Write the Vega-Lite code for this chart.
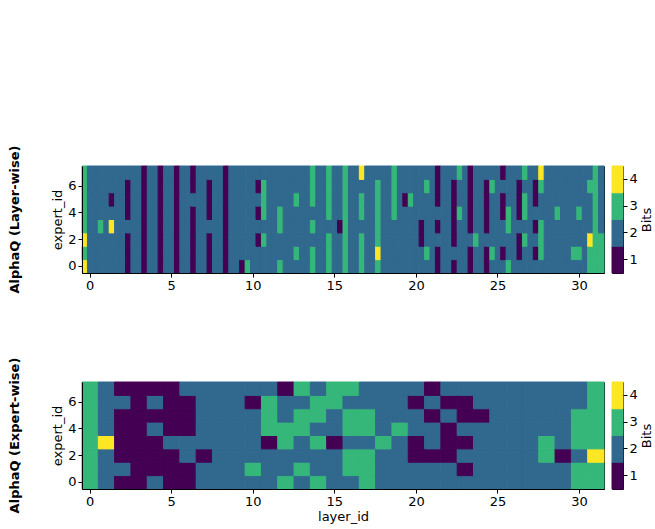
{
  "$schema": "https://vega.github.io/schema/vega-lite/v6.json",
  "background": "white",
  "padding": {"left": 8, "top": 144, "right": 0, "bottom": 0},
  "config": {
    "view": {"stroke": "black", "strokeWidth": 1},
    "font": "DejaVu Sans",
    "axis": {
      "labelFont": "DejaVu Sans", "titleFont": "DejaVu Sans",
      "labelFontSize": 13, "titleFontSize": 13, "titleFontWeight": "normal",
      "labelColor": "black", "titleColor": "black",
      "tickColor": "black", "domainColor": "black", "domainWidth": 1,
      "tickSize": 4, "labelPadding": 2, "grid": false, "labelAngle": 0
    }
  },
  "datasets": {
    "layerwise": [
      {"k":0,"e":0,"b":4},{"k":0,"e":1,"b":3},{"k":0,"e":2,"b":4},{"k":0,"e":3,"b":3},{"k":0,"e":4,"b":3},{"k":0,"e":5,"b":3},{"k":0,"e":6,"b":3},{"k":0,"e":7,"b":3},
      {"k":1,"e":0,"b":2},{"k":1,"e":1,"b":2},{"k":1,"e":2,"b":2},{"k":1,"e":3,"b":2},{"k":1,"e":4,"b":2},{"k":1,"e":5,"b":2},{"k":1,"e":6,"b":2},{"k":1,"e":7,"b":2},
      {"k":2,"e":0,"b":2},{"k":2,"e":1,"b":2},{"k":2,"e":2,"b":2},{"k":2,"e":3,"b":2},{"k":2,"e":4,"b":2},{"k":2,"e":5,"b":2},{"k":2,"e":6,"b":2},{"k":2,"e":7,"b":2},
      {"k":3,"e":0,"b":2},{"k":3,"e":1,"b":2},{"k":3,"e":2,"b":2},{"k":3,"e":3,"b":3},{"k":3,"e":4,"b":2},{"k":3,"e":5,"b":2},{"k":3,"e":6,"b":2},{"k":3,"e":7,"b":2},
      {"k":4,"e":0,"b":2},{"k":4,"e":1,"b":2},{"k":4,"e":2,"b":2},{"k":4,"e":3,"b":2},{"k":4,"e":4,"b":2},{"k":4,"e":5,"b":2},{"k":4,"e":6,"b":2},{"k":4,"e":7,"b":2},
      {"k":5,"e":0,"b":2},{"k":5,"e":1,"b":2},{"k":5,"e":2,"b":2},{"k":5,"e":3,"b":4},{"k":5,"e":4,"b":2},{"k":5,"e":5,"b":1},{"k":5,"e":6,"b":2},{"k":5,"e":7,"b":2},
      {"k":6,"e":0,"b":2},{"k":6,"e":1,"b":2},{"k":6,"e":2,"b":2},{"k":6,"e":3,"b":2},{"k":6,"e":4,"b":2},{"k":6,"e":5,"b":2},{"k":6,"e":6,"b":2},{"k":6,"e":7,"b":2},
      {"k":7,"e":0,"b":2},{"k":7,"e":1,"b":2},{"k":7,"e":2,"b":2},{"k":7,"e":3,"b":2},{"k":7,"e":4,"b":2},{"k":7,"e":5,"b":2},{"k":7,"e":6,"b":2},{"k":7,"e":7,"b":2},
      {"k":8,"e":0,"b":1},{"k":8,"e":1,"b":1},{"k":8,"e":2,"b":1},{"k":8,"e":3,"b":2},{"k":8,"e":4,"b":1},{"k":8,"e":5,"b":1},{"k":8,"e":6,"b":1},{"k":8,"e":7,"b":2},
      {"k":9,"e":0,"b":2},{"k":9,"e":1,"b":2},{"k":9,"e":2,"b":2},{"k":9,"e":3,"b":2},{"k":9,"e":4,"b":2},{"k":9,"e":5,"b":2},{"k":9,"e":6,"b":2},{"k":9,"e":7,"b":2},
      {"k":10,"e":0,"b":2},{"k":10,"e":1,"b":2},{"k":10,"e":2,"b":2},{"k":10,"e":3,"b":2},{"k":10,"e":4,"b":2},{"k":10,"e":5,"b":2},{"k":10,"e":6,"b":2},{"k":10,"e":7,"b":2},
      {"k":11,"e":0,"b":1},{"k":11,"e":1,"b":1},{"k":11,"e":2,"b":1},{"k":11,"e":3,"b":1},{"k":11,"e":4,"b":1},{"k":11,"e":5,"b":1},{"k":11,"e":6,"b":1},{"k":11,"e":7,"b":1},
      {"k":12,"e":0,"b":2},{"k":12,"e":1,"b":2},{"k":12,"e":2,"b":2},{"k":12,"e":3,"b":2},{"k":12,"e":4,"b":2},{"k":12,"e":5,"b":2},{"k":12,"e":6,"b":2},{"k":12,"e":7,"b":2},
      {"k":13,"e":0,"b":2},{"k":13,"e":1,"b":2},{"k":13,"e":2,"b":2},{"k":13,"e":3,"b":2},{"k":13,"e":4,"b":2},{"k":13,"e":5,"b":2},{"k":13,"e":6,"b":2},{"k":13,"e":7,"b":2},
      {"k":14,"e":0,"b":1},{"k":14,"e":1,"b":1},{"k":14,"e":2,"b":1},{"k":14,"e":3,"b":1},{"k":14,"e":4,"b":1},{"k":14,"e":5,"b":1},{"k":14,"e":6,"b":1},{"k":14,"e":7,"b":1},
      {"k":15,"e":0,"b":2},{"k":15,"e":1,"b":2},{"k":15,"e":2,"b":2},{"k":15,"e":3,"b":2},{"k":15,"e":4,"b":2},{"k":15,"e":5,"b":2},{"k":15,"e":6,"b":2},{"k":15,"e":7,"b":2},
      {"k":16,"e":0,"b":2},{"k":16,"e":1,"b":2},{"k":16,"e":2,"b":2},{"k":16,"e":3,"b":2},{"k":16,"e":4,"b":2},{"k":16,"e":5,"b":2},{"k":16,"e":6,"b":2},{"k":16,"e":7,"b":2},
      {"k":17,"e":0,"b":1},{"k":17,"e":1,"b":1},{"k":17,"e":2,"b":1},{"k":17,"e":3,"b":1},{"k":17,"e":4,"b":1},{"k":17,"e":5,"b":1},{"k":17,"e":6,"b":1},{"k":17,"e":7,"b":1},
      {"k":18,"e":0,"b":2},{"k":18,"e":1,"b":2},{"k":18,"e":2,"b":2},{"k":18,"e":3,"b":2},{"k":18,"e":4,"b":2},{"k":18,"e":5,"b":2},{"k":18,"e":6,"b":2},{"k":18,"e":7,"b":2},
      {"k":19,"e":0,"b":2},{"k":19,"e":1,"b":2},{"k":19,"e":2,"b":2},{"k":19,"e":3,"b":2},{"k":19,"e":4,"b":2},{"k":19,"e":5,"b":2},{"k":19,"e":6,"b":2},{"k":19,"e":7,"b":2},
      {"k":20,"e":0,"b":1},{"k":20,"e":1,"b":1},{"k":20,"e":2,"b":1},{"k":20,"e":3,"b":1},{"k":20,"e":4,"b":1},{"k":20,"e":5,"b":2},{"k":20,"e":6,"b":1},{"k":20,"e":7,"b":1},
      {"k":21,"e":0,"b":2},{"k":21,"e":1,"b":2},{"k":21,"e":2,"b":2},{"k":21,"e":3,"b":2},{"k":21,"e":4,"b":2},{"k":21,"e":5,"b":2},{"k":21,"e":6,"b":2},{"k":21,"e":7,"b":2},
      {"k":22,"e":0,"b":2},{"k":22,"e":1,"b":2},{"k":22,"e":2,"b":2},{"k":22,"e":3,"b":2},{"k":22,"e":4,"b":2},{"k":22,"e":5,"b":2},{"k":22,"e":6,"b":2},{"k":22,"e":7,"b":2},
      {"k":23,"e":0,"b":1},{"k":23,"e":1,"b":1},{"k":23,"e":2,"b":1},{"k":23,"e":3,"b":2},{"k":23,"e":4,"b":1},{"k":23,"e":5,"b":1},{"k":23,"e":6,"b":1},{"k":23,"e":7,"b":2},
      {"k":24,"e":0,"b":2},{"k":24,"e":1,"b":2},{"k":24,"e":2,"b":2},{"k":24,"e":3,"b":2},{"k":24,"e":4,"b":2},{"k":24,"e":5,"b":2},{"k":24,"e":6,"b":2},{"k":24,"e":7,"b":2},
      {"k":25,"e":0,"b":2},{"k":25,"e":1,"b":2},{"k":25,"e":2,"b":2},{"k":25,"e":3,"b":2},{"k":25,"e":4,"b":2},{"k":25,"e":5,"b":2},{"k":25,"e":6,"b":2},{"k":25,"e":7,"b":2},
      {"k":26,"e":0,"b":1},{"k":26,"e":1,"b":1},{"k":26,"e":2,"b":1},{"k":26,"e":3,"b":1},{"k":26,"e":4,"b":1},{"k":26,"e":5,"b":1},{"k":26,"e":6,"b":1},{"k":26,"e":7,"b":1},
      {"k":27,"e":0,"b":2},{"k":27,"e":1,"b":2},{"k":27,"e":2,"b":2},{"k":27,"e":3,"b":2},{"k":27,"e":4,"b":2},{"k":27,"e":5,"b":2},{"k":27,"e":6,"b":2},{"k":27,"e":7,"b":2},
      {"k":28,"e":0,"b":2},{"k":28,"e":1,"b":2},{"k":28,"e":2,"b":2},{"k":28,"e":3,"b":2},{"k":28,"e":4,"b":2},{"k":28,"e":5,"b":2},{"k":28,"e":6,"b":2},{"k":28,"e":7,"b":2},
      {"k":29,"e":0,"b":1},{"k":29,"e":1,"b":2},{"k":29,"e":2,"b":2},{"k":29,"e":3,"b":2},{"k":29,"e":4,"b":2},{"k":29,"e":5,"b":2},{"k":29,"e":6,"b":2},{"k":29,"e":7,"b":2},
      {"k":30,"e":0,"b":3},{"k":30,"e":1,"b":2},{"k":30,"e":2,"b":2},{"k":30,"e":3,"b":2},{"k":30,"e":4,"b":2},{"k":30,"e":5,"b":2},{"k":30,"e":6,"b":2},{"k":30,"e":7,"b":2},
      {"k":31,"e":0,"b":2},{"k":31,"e":1,"b":2},{"k":31,"e":2,"b":2},{"k":31,"e":3,"b":2},{"k":31,"e":4,"b":2},{"k":31,"e":5,"b":2},{"k":31,"e":6,"b":2},{"k":31,"e":7,"b":2},
      {"k":32,"e":0,"b":2},{"k":32,"e":1,"b":2},{"k":32,"e":2,"b":1},{"k":32,"e":3,"b":2},{"k":32,"e":4,"b":1},{"k":32,"e":5,"b":2},{"k":32,"e":6,"b":1},{"k":32,"e":7,"b":2},
      {"k":33,"e":0,"b":2},{"k":33,"e":1,"b":2},{"k":33,"e":2,"b":3},{"k":33,"e":3,"b":2},{"k":33,"e":4,"b":3},{"k":33,"e":5,"b":3},{"k":33,"e":6,"b":3},{"k":33,"e":7,"b":2},
      {"k":34,"e":0,"b":2},{"k":34,"e":1,"b":2},{"k":34,"e":2,"b":2},{"k":34,"e":3,"b":2},{"k":34,"e":4,"b":2},{"k":34,"e":5,"b":2},{"k":34,"e":6,"b":2},{"k":34,"e":7,"b":2},
      {"k":35,"e":0,"b":2},{"k":35,"e":1,"b":2},{"k":35,"e":2,"b":2},{"k":35,"e":3,"b":2},{"k":35,"e":4,"b":2},{"k":35,"e":5,"b":2},{"k":35,"e":6,"b":2},{"k":35,"e":7,"b":2},
      {"k":36,"e":0,"b":3},{"k":36,"e":1,"b":2},{"k":36,"e":2,"b":2},{"k":36,"e":3,"b":3},{"k":36,"e":4,"b":3},{"k":36,"e":5,"b":2},{"k":36,"e":6,"b":2},{"k":36,"e":7,"b":2},
      {"k":37,"e":0,"b":2},{"k":37,"e":1,"b":2},{"k":37,"e":2,"b":2},{"k":37,"e":3,"b":2},{"k":37,"e":4,"b":2},{"k":37,"e":5,"b":2},{"k":37,"e":6,"b":2},{"k":37,"e":7,"b":2},
      {"k":38,"e":0,"b":2},{"k":38,"e":1,"b":2},{"k":38,"e":2,"b":2},{"k":38,"e":3,"b":2},{"k":38,"e":4,"b":2},{"k":38,"e":5,"b":2},{"k":38,"e":6,"b":2},{"k":38,"e":7,"b":2},
      {"k":39,"e":0,"b":2},{"k":39,"e":1,"b":3},{"k":39,"e":2,"b":2},{"k":39,"e":3,"b":2},{"k":39,"e":4,"b":2},{"k":39,"e":5,"b":3},{"k":39,"e":6,"b":2},{"k":39,"e":7,"b":2},
      {"k":40,"e":0,"b":2},{"k":40,"e":1,"b":2},{"k":40,"e":2,"b":2},{"k":40,"e":3,"b":2},{"k":40,"e":4,"b":2},{"k":40,"e":5,"b":2},{"k":40,"e":6,"b":2},{"k":40,"e":7,"b":2},
      {"k":41,"e":0,"b":2},{"k":41,"e":1,"b":2},{"k":41,"e":2,"b":2},{"k":41,"e":3,"b":2},{"k":41,"e":4,"b":2},{"k":41,"e":5,"b":2},{"k":41,"e":6,"b":2},{"k":41,"e":7,"b":2},
      {"k":42,"e":0,"b":3},{"k":42,"e":1,"b":3},{"k":42,"e":2,"b":2},{"k":42,"e":3,"b":3},{"k":42,"e":4,"b":2},{"k":42,"e":5,"b":3},{"k":42,"e":6,"b":3},{"k":42,"e":7,"b":3},
      {"k":43,"e":0,"b":2},{"k":43,"e":1,"b":2},{"k":43,"e":2,"b":2},{"k":43,"e":3,"b":2},{"k":43,"e":4,"b":2},{"k":43,"e":5,"b":2},{"k":43,"e":6,"b":2},{"k":43,"e":7,"b":2},
      {"k":44,"e":0,"b":2},{"k":44,"e":1,"b":2},{"k":44,"e":2,"b":2},{"k":44,"e":3,"b":2},{"k":44,"e":4,"b":2},{"k":44,"e":5,"b":2},{"k":44,"e":6,"b":2},{"k":44,"e":7,"b":2},
      {"k":45,"e":0,"b":3},{"k":45,"e":1,"b":3},{"k":45,"e":2,"b":3},{"k":45,"e":3,"b":2},{"k":45,"e":4,"b":3},{"k":45,"e":5,"b":3},{"k":45,"e":6,"b":3},{"k":45,"e":7,"b":3},
      {"k":46,"e":0,"b":2},{"k":46,"e":1,"b":2},{"k":46,"e":2,"b":2},{"k":46,"e":3,"b":2},{"k":46,"e":4,"b":2},{"k":46,"e":5,"b":2},{"k":46,"e":6,"b":2},{"k":46,"e":7,"b":2},
      {"k":47,"e":0,"b":2},{"k":47,"e":1,"b":2},{"k":47,"e":2,"b":2},{"k":47,"e":3,"b":1},{"k":47,"e":4,"b":2},{"k":47,"e":5,"b":2},{"k":47,"e":6,"b":2},{"k":47,"e":7,"b":2},
      {"k":48,"e":0,"b":3},{"k":48,"e":1,"b":3},{"k":48,"e":2,"b":3},{"k":48,"e":3,"b":3},{"k":48,"e":4,"b":3},{"k":48,"e":5,"b":3},{"k":48,"e":6,"b":3},{"k":48,"e":7,"b":3},
      {"k":49,"e":0,"b":2},{"k":49,"e":1,"b":2},{"k":49,"e":2,"b":2},{"k":49,"e":3,"b":2},{"k":49,"e":4,"b":2},{"k":49,"e":5,"b":2},{"k":49,"e":6,"b":2},{"k":49,"e":7,"b":2},
      {"k":50,"e":0,"b":2},{"k":50,"e":1,"b":2},{"k":50,"e":2,"b":2},{"k":50,"e":3,"b":2},{"k":50,"e":4,"b":2},{"k":50,"e":5,"b":2},{"k":50,"e":6,"b":2},{"k":50,"e":7,"b":2},
      {"k":51,"e":0,"b":3},{"k":51,"e":1,"b":3},{"k":51,"e":2,"b":3},{"k":51,"e":3,"b":2},{"k":51,"e":4,"b":3},{"k":51,"e":5,"b":3},{"k":51,"e":6,"b":2},{"k":51,"e":7,"b":4},
      {"k":52,"e":0,"b":2},{"k":52,"e":1,"b":2},{"k":52,"e":2,"b":2},{"k":52,"e":3,"b":2},{"k":52,"e":4,"b":2},{"k":52,"e":5,"b":2},{"k":52,"e":6,"b":2},{"k":52,"e":7,"b":2},
      {"k":53,"e":0,"b":2},{"k":53,"e":1,"b":2},{"k":53,"e":2,"b":2},{"k":53,"e":3,"b":2},{"k":53,"e":4,"b":2},{"k":53,"e":5,"b":2},{"k":53,"e":6,"b":2},{"k":53,"e":7,"b":2},
      {"k":54,"e":0,"b":3},{"k":54,"e":1,"b":4},{"k":54,"e":2,"b":3},{"k":54,"e":3,"b":3},{"k":54,"e":4,"b":3},{"k":54,"e":5,"b":3},{"k":54,"e":6,"b":3},{"k":54,"e":7,"b":2},
      {"k":55,"e":0,"b":2},{"k":55,"e":1,"b":2},{"k":55,"e":2,"b":2},{"k":55,"e":3,"b":2},{"k":55,"e":4,"b":2},{"k":55,"e":5,"b":2},{"k":55,"e":6,"b":2},{"k":55,"e":7,"b":2},
      {"k":56,"e":0,"b":2},{"k":56,"e":1,"b":2},{"k":56,"e":2,"b":2},{"k":56,"e":3,"b":2},{"k":56,"e":4,"b":2},{"k":56,"e":5,"b":2},{"k":56,"e":6,"b":2},{"k":56,"e":7,"b":2},
      {"k":57,"e":0,"b":2},{"k":57,"e":1,"b":2},{"k":57,"e":2,"b":2},{"k":57,"e":3,"b":2},{"k":57,"e":4,"b":3},{"k":57,"e":5,"b":3},{"k":57,"e":6,"b":3},{"k":57,"e":7,"b":3},
      {"k":58,"e":0,"b":2},{"k":58,"e":1,"b":2},{"k":58,"e":2,"b":2},{"k":58,"e":3,"b":2},{"k":58,"e":4,"b":2},{"k":58,"e":5,"b":2},{"k":58,"e":6,"b":2},{"k":58,"e":7,"b":2},
      {"k":59,"e":0,"b":2},{"k":59,"e":1,"b":2},{"k":59,"e":2,"b":2},{"k":59,"e":3,"b":2},{"k":59,"e":4,"b":2},{"k":59,"e":5,"b":1},{"k":59,"e":6,"b":2},{"k":59,"e":7,"b":2},
      {"k":60,"e":0,"b":2},{"k":60,"e":1,"b":2},{"k":60,"e":2,"b":2},{"k":60,"e":3,"b":2},{"k":60,"e":4,"b":2},{"k":60,"e":5,"b":3},{"k":60,"e":6,"b":2},{"k":60,"e":7,"b":2},
      {"k":61,"e":0,"b":2},{"k":61,"e":1,"b":2},{"k":61,"e":2,"b":2},{"k":61,"e":3,"b":2},{"k":61,"e":4,"b":2},{"k":61,"e":5,"b":2},{"k":61,"e":6,"b":2},{"k":61,"e":7,"b":2},
      {"k":62,"e":0,"b":2},{"k":62,"e":1,"b":2},{"k":62,"e":2,"b":1},{"k":62,"e":3,"b":1},{"k":62,"e":4,"b":2},{"k":62,"e":5,"b":2},{"k":62,"e":6,"b":2},{"k":62,"e":7,"b":2},
      {"k":63,"e":0,"b":2},{"k":63,"e":1,"b":3},{"k":63,"e":2,"b":2},{"k":63,"e":3,"b":2},{"k":63,"e":4,"b":2},{"k":63,"e":5,"b":2},{"k":63,"e":6,"b":3},{"k":63,"e":7,"b":2},
      {"k":64,"e":0,"b":2},{"k":64,"e":1,"b":2},{"k":64,"e":2,"b":2},{"k":64,"e":3,"b":2},{"k":64,"e":4,"b":2},{"k":64,"e":5,"b":2},{"k":64,"e":6,"b":2},{"k":64,"e":7,"b":2},
      {"k":65,"e":0,"b":1},{"k":65,"e":1,"b":1},{"k":65,"e":2,"b":2},{"k":65,"e":3,"b":1},{"k":65,"e":4,"b":2},{"k":65,"e":5,"b":1},{"k":65,"e":6,"b":1},{"k":65,"e":7,"b":1},
      {"k":66,"e":0,"b":2},{"k":66,"e":1,"b":2},{"k":66,"e":2,"b":2},{"k":66,"e":3,"b":2},{"k":66,"e":4,"b":2},{"k":66,"e":5,"b":2},{"k":66,"e":6,"b":2},{"k":66,"e":7,"b":2},
      {"k":67,"e":0,"b":2},{"k":67,"e":1,"b":2},{"k":67,"e":2,"b":2},{"k":67,"e":3,"b":2},{"k":67,"e":4,"b":2},{"k":67,"e":5,"b":2},{"k":67,"e":6,"b":2},{"k":67,"e":7,"b":2},
      {"k":68,"e":0,"b":1},{"k":68,"e":1,"b":2},{"k":68,"e":2,"b":1},{"k":68,"e":3,"b":1},{"k":68,"e":4,"b":1},{"k":68,"e":5,"b":1},{"k":68,"e":6,"b":1},{"k":68,"e":7,"b":2},
      {"k":69,"e":0,"b":2},{"k":69,"e":1,"b":2},{"k":69,"e":2,"b":2},{"k":69,"e":3,"b":2},{"k":69,"e":4,"b":3},{"k":69,"e":5,"b":2},{"k":69,"e":6,"b":2},{"k":69,"e":7,"b":3},
      {"k":70,"e":0,"b":2},{"k":70,"e":1,"b":2},{"k":70,"e":2,"b":2},{"k":70,"e":3,"b":2},{"k":70,"e":4,"b":2},{"k":70,"e":5,"b":2},{"k":70,"e":6,"b":2},{"k":70,"e":7,"b":2},
      {"k":71,"e":0,"b":1},{"k":71,"e":1,"b":1},{"k":71,"e":2,"b":2},{"k":71,"e":3,"b":1},{"k":71,"e":4,"b":1},{"k":71,"e":5,"b":1},{"k":71,"e":6,"b":1},{"k":71,"e":7,"b":1},
      {"k":72,"e":0,"b":2},{"k":72,"e":1,"b":2},{"k":72,"e":2,"b":3},{"k":72,"e":3,"b":2},{"k":72,"e":4,"b":2},{"k":72,"e":5,"b":2},{"k":72,"e":6,"b":2},{"k":72,"e":7,"b":2},
      {"k":73,"e":0,"b":2},{"k":73,"e":1,"b":2},{"k":73,"e":2,"b":2},{"k":73,"e":3,"b":2},{"k":73,"e":4,"b":2},{"k":73,"e":5,"b":2},{"k":73,"e":6,"b":2},{"k":73,"e":7,"b":2},
      {"k":74,"e":0,"b":1},{"k":74,"e":1,"b":1},{"k":74,"e":2,"b":2},{"k":74,"e":3,"b":1},{"k":74,"e":4,"b":1},{"k":74,"e":5,"b":1},{"k":74,"e":6,"b":1},{"k":74,"e":7,"b":2},
      {"k":75,"e":0,"b":2},{"k":75,"e":1,"b":3},{"k":75,"e":2,"b":2},{"k":75,"e":3,"b":2},{"k":75,"e":4,"b":2},{"k":75,"e":5,"b":2},{"k":75,"e":6,"b":3},{"k":75,"e":7,"b":2},
      {"k":76,"e":0,"b":2},{"k":76,"e":1,"b":2},{"k":76,"e":2,"b":2},{"k":76,"e":3,"b":2},{"k":76,"e":4,"b":2},{"k":76,"e":5,"b":2},{"k":76,"e":6,"b":2},{"k":76,"e":7,"b":2},
      {"k":77,"e":0,"b":2},{"k":77,"e":1,"b":1},{"k":77,"e":2,"b":2},{"k":77,"e":3,"b":2},{"k":77,"e":4,"b":1},{"k":77,"e":5,"b":1},{"k":77,"e":6,"b":2},{"k":77,"e":7,"b":1},
      {"k":78,"e":0,"b":3},{"k":78,"e":1,"b":2},{"k":78,"e":2,"b":2},{"k":78,"e":3,"b":3},{"k":78,"e":4,"b":3},{"k":78,"e":5,"b":2},{"k":78,"e":6,"b":2},{"k":78,"e":7,"b":2},
      {"k":79,"e":0,"b":2},{"k":79,"e":1,"b":2},{"k":79,"e":2,"b":2},{"k":79,"e":3,"b":2},{"k":79,"e":4,"b":2},{"k":79,"e":5,"b":2},{"k":79,"e":6,"b":2},{"k":79,"e":7,"b":2},
      {"k":80,"e":0,"b":2},{"k":80,"e":1,"b":1},{"k":80,"e":2,"b":1},{"k":80,"e":3,"b":2},{"k":80,"e":4,"b":1},{"k":80,"e":5,"b":1},{"k":80,"e":6,"b":1},{"k":80,"e":7,"b":2},
      {"k":81,"e":0,"b":2},{"k":81,"e":1,"b":2},{"k":81,"e":2,"b":3},{"k":81,"e":3,"b":2},{"k":81,"e":4,"b":3},{"k":81,"e":5,"b":3},{"k":81,"e":6,"b":2},{"k":81,"e":7,"b":3},
      {"k":82,"e":0,"b":2},{"k":82,"e":1,"b":2},{"k":82,"e":2,"b":2},{"k":82,"e":3,"b":2},{"k":82,"e":4,"b":2},{"k":82,"e":5,"b":2},{"k":82,"e":6,"b":2},{"k":82,"e":7,"b":2},
      {"k":83,"e":0,"b":2},{"k":83,"e":1,"b":1},{"k":83,"e":2,"b":2},{"k":83,"e":3,"b":1},{"k":83,"e":4,"b":2},{"k":83,"e":5,"b":1},{"k":83,"e":6,"b":1},{"k":83,"e":7,"b":2},
      {"k":84,"e":0,"b":2},{"k":84,"e":1,"b":3},{"k":84,"e":2,"b":3},{"k":84,"e":3,"b":3},{"k":84,"e":4,"b":2},{"k":84,"e":5,"b":2},{"k":84,"e":6,"b":3},{"k":84,"e":7,"b":4},
      {"k":85,"e":0,"b":2},{"k":85,"e":1,"b":2},{"k":85,"e":2,"b":2},{"k":85,"e":3,"b":2},{"k":85,"e":4,"b":2},{"k":85,"e":5,"b":2},{"k":85,"e":6,"b":2},{"k":85,"e":7,"b":2},
      {"k":86,"e":0,"b":2},{"k":86,"e":1,"b":2},{"k":86,"e":2,"b":2},{"k":86,"e":3,"b":2},{"k":86,"e":4,"b":2},{"k":86,"e":5,"b":2},{"k":86,"e":6,"b":2},{"k":86,"e":7,"b":2},
      {"k":87,"e":0,"b":2},{"k":87,"e":1,"b":2},{"k":87,"e":2,"b":2},{"k":87,"e":3,"b":2},{"k":87,"e":4,"b":3},{"k":87,"e":5,"b":2},{"k":87,"e":6,"b":2},{"k":87,"e":7,"b":2},
      {"k":88,"e":0,"b":2},{"k":88,"e":1,"b":2},{"k":88,"e":2,"b":2},{"k":88,"e":3,"b":2},{"k":88,"e":4,"b":2},{"k":88,"e":5,"b":2},{"k":88,"e":6,"b":2},{"k":88,"e":7,"b":2},
      {"k":89,"e":0,"b":2},{"k":89,"e":1,"b":2},{"k":89,"e":2,"b":2},{"k":89,"e":3,"b":2},{"k":89,"e":4,"b":2},{"k":89,"e":5,"b":2},{"k":89,"e":6,"b":2},{"k":89,"e":7,"b":2},
      {"k":90,"e":0,"b":2},{"k":90,"e":1,"b":3},{"k":90,"e":2,"b":2},{"k":90,"e":3,"b":2},{"k":90,"e":4,"b":2},{"k":90,"e":5,"b":2},{"k":90,"e":6,"b":2},{"k":90,"e":7,"b":2},
      {"k":91,"e":0,"b":2},{"k":91,"e":1,"b":3},{"k":91,"e":2,"b":2},{"k":91,"e":3,"b":2},{"k":91,"e":4,"b":3},{"k":91,"e":5,"b":2},{"k":91,"e":6,"b":2},{"k":91,"e":7,"b":2},
      {"k":92,"e":0,"b":2},{"k":92,"e":1,"b":2},{"k":92,"e":2,"b":2},{"k":92,"e":3,"b":2},{"k":92,"e":4,"b":2},{"k":92,"e":5,"b":2},{"k":92,"e":6,"b":2},{"k":92,"e":7,"b":2},
      {"k":93,"e":0,"b":3},{"k":93,"e":1,"b":3},{"k":93,"e":2,"b":4},{"k":93,"e":3,"b":2},{"k":93,"e":4,"b":2},{"k":93,"e":5,"b":2},{"k":93,"e":6,"b":3},{"k":93,"e":7,"b":2},
      {"k":94,"e":0,"b":3},{"k":94,"e":1,"b":3},{"k":94,"e":2,"b":3},{"k":94,"e":3,"b":3},{"k":94,"e":4,"b":3},{"k":94,"e":5,"b":3},{"k":94,"e":6,"b":3},{"k":94,"e":7,"b":3},
      {"k":95,"e":0,"b":3},{"k":95,"e":1,"b":3},{"k":95,"e":2,"b":3},{"k":95,"e":3,"b":2},{"k":95,"e":4,"b":2},{"k":95,"e":5,"b":2},{"k":95,"e":6,"b":2},{"k":95,"e":7,"b":2}
    ],
    "expertwise": [
      {"l":0,"e":0,"b":3},{"l":0,"e":1,"b":3},{"l":0,"e":2,"b":3},{"l":0,"e":3,"b":3},{"l":0,"e":4,"b":3},{"l":0,"e":5,"b":3},{"l":0,"e":6,"b":3},{"l":0,"e":7,"b":3},
      {"l":1,"e":0,"b":2},{"l":1,"e":1,"b":2},{"l":1,"e":2,"b":2},{"l":1,"e":3,"b":4},{"l":1,"e":4,"b":2},{"l":1,"e":5,"b":2},{"l":1,"e":6,"b":2},{"l":1,"e":7,"b":2},
      {"l":2,"e":0,"b":1},{"l":2,"e":1,"b":2},{"l":2,"e":2,"b":1},{"l":2,"e":3,"b":1},{"l":2,"e":4,"b":1},{"l":2,"e":5,"b":1},{"l":2,"e":6,"b":2},{"l":2,"e":7,"b":1},
      {"l":3,"e":0,"b":1},{"l":3,"e":1,"b":1},{"l":3,"e":2,"b":1},{"l":3,"e":3,"b":1},{"l":3,"e":4,"b":1},{"l":3,"e":5,"b":1},{"l":3,"e":6,"b":1},{"l":3,"e":7,"b":1},
      {"l":4,"e":0,"b":2},{"l":4,"e":1,"b":1},{"l":4,"e":2,"b":1},{"l":4,"e":3,"b":1},{"l":4,"e":4,"b":2},{"l":4,"e":5,"b":1},{"l":4,"e":6,"b":2},{"l":4,"e":7,"b":1},
      {"l":5,"e":0,"b":1},{"l":5,"e":1,"b":1},{"l":5,"e":2,"b":1},{"l":5,"e":3,"b":2},{"l":5,"e":4,"b":1},{"l":5,"e":5,"b":1},{"l":5,"e":6,"b":1},{"l":5,"e":7,"b":1},
      {"l":6,"e":0,"b":1},{"l":6,"e":1,"b":1},{"l":6,"e":2,"b":2},{"l":6,"e":3,"b":2},{"l":6,"e":4,"b":1},{"l":6,"e":5,"b":1},{"l":6,"e":6,"b":1},{"l":6,"e":7,"b":2},
      {"l":7,"e":0,"b":2},{"l":7,"e":1,"b":2},{"l":7,"e":2,"b":1},{"l":7,"e":3,"b":2},{"l":7,"e":4,"b":2},{"l":7,"e":5,"b":2},{"l":7,"e":6,"b":2},{"l":7,"e":7,"b":2},
      {"l":8,"e":0,"b":2},{"l":8,"e":1,"b":2},{"l":8,"e":2,"b":2},{"l":8,"e":3,"b":2},{"l":8,"e":4,"b":2},{"l":8,"e":5,"b":2},{"l":8,"e":6,"b":2},{"l":8,"e":7,"b":2},
      {"l":9,"e":0,"b":2},{"l":9,"e":1,"b":2},{"l":9,"e":2,"b":2},{"l":9,"e":3,"b":2},{"l":9,"e":4,"b":2},{"l":9,"e":5,"b":2},{"l":9,"e":6,"b":2},{"l":9,"e":7,"b":2},
      {"l":10,"e":0,"b":2},{"l":10,"e":1,"b":3},{"l":10,"e":2,"b":2},{"l":10,"e":3,"b":2},{"l":10,"e":4,"b":2},{"l":10,"e":5,"b":2},{"l":10,"e":6,"b":1},{"l":10,"e":7,"b":2},
      {"l":11,"e":0,"b":2},{"l":11,"e":1,"b":2},{"l":11,"e":2,"b":2},{"l":11,"e":3,"b":1},{"l":11,"e":4,"b":3},{"l":11,"e":5,"b":3},{"l":11,"e":6,"b":3},{"l":11,"e":7,"b":2},
      {"l":12,"e":0,"b":3},{"l":12,"e":1,"b":2},{"l":12,"e":2,"b":2},{"l":12,"e":3,"b":3},{"l":12,"e":4,"b":3},{"l":12,"e":5,"b":2},{"l":12,"e":6,"b":2},{"l":12,"e":7,"b":1},
      {"l":13,"e":0,"b":2},{"l":13,"e":1,"b":3},{"l":13,"e":2,"b":2},{"l":13,"e":3,"b":2},{"l":13,"e":4,"b":3},{"l":13,"e":5,"b":3},{"l":13,"e":6,"b":2},{"l":13,"e":7,"b":3},
      {"l":14,"e":0,"b":3},{"l":14,"e":1,"b":2},{"l":14,"e":2,"b":2},{"l":14,"e":3,"b":3},{"l":14,"e":4,"b":2},{"l":14,"e":5,"b":3},{"l":14,"e":6,"b":3},{"l":14,"e":7,"b":2},
      {"l":15,"e":0,"b":2},{"l":15,"e":1,"b":2},{"l":15,"e":2,"b":2},{"l":15,"e":3,"b":1},{"l":15,"e":4,"b":2},{"l":15,"e":5,"b":2},{"l":15,"e":6,"b":3},{"l":15,"e":7,"b":3},
      {"l":16,"e":0,"b":2},{"l":16,"e":1,"b":3},{"l":16,"e":2,"b":3},{"l":16,"e":3,"b":2},{"l":16,"e":4,"b":3},{"l":16,"e":5,"b":3},{"l":16,"e":6,"b":2},{"l":16,"e":7,"b":3},
      {"l":17,"e":0,"b":3},{"l":17,"e":1,"b":3},{"l":17,"e":2,"b":3},{"l":17,"e":3,"b":2},{"l":17,"e":4,"b":3},{"l":17,"e":5,"b":3},{"l":17,"e":6,"b":2},{"l":17,"e":7,"b":2},
      {"l":18,"e":0,"b":2},{"l":18,"e":1,"b":2},{"l":18,"e":2,"b":2},{"l":18,"e":3,"b":3},{"l":18,"e":4,"b":2},{"l":18,"e":5,"b":2},{"l":18,"e":6,"b":2},{"l":18,"e":7,"b":2},
      {"l":19,"e":0,"b":2},{"l":19,"e":1,"b":2},{"l":19,"e":2,"b":2},{"l":19,"e":3,"b":2},{"l":19,"e":4,"b":3},{"l":19,"e":5,"b":2},{"l":19,"e":6,"b":2},{"l":19,"e":7,"b":2},
      {"l":20,"e":0,"b":2},{"l":20,"e":1,"b":2},{"l":20,"e":2,"b":1},{"l":20,"e":3,"b":1},{"l":20,"e":4,"b":2},{"l":20,"e":5,"b":2},{"l":20,"e":6,"b":1},{"l":20,"e":7,"b":2},
      {"l":21,"e":0,"b":2},{"l":21,"e":1,"b":2},{"l":21,"e":2,"b":1},{"l":21,"e":3,"b":2},{"l":21,"e":4,"b":2},{"l":21,"e":5,"b":1},{"l":21,"e":6,"b":2},{"l":21,"e":7,"b":1},
      {"l":22,"e":0,"b":2},{"l":22,"e":1,"b":2},{"l":22,"e":2,"b":1},{"l":22,"e":3,"b":1},{"l":22,"e":4,"b":1},{"l":22,"e":5,"b":2},{"l":22,"e":6,"b":1},{"l":22,"e":7,"b":2},
      {"l":23,"e":0,"b":2},{"l":23,"e":1,"b":1},{"l":23,"e":2,"b":2},{"l":23,"e":3,"b":1},{"l":23,"e":4,"b":2},{"l":23,"e":5,"b":1},{"l":23,"e":6,"b":1},{"l":23,"e":7,"b":2},
      {"l":24,"e":0,"b":2},{"l":24,"e":1,"b":2},{"l":24,"e":2,"b":2},{"l":24,"e":3,"b":2},{"l":24,"e":4,"b":2},{"l":24,"e":5,"b":1},{"l":24,"e":6,"b":2},{"l":24,"e":7,"b":2},
      {"l":25,"e":0,"b":2},{"l":25,"e":1,"b":2},{"l":25,"e":2,"b":2},{"l":25,"e":3,"b":2},{"l":25,"e":4,"b":2},{"l":25,"e":5,"b":2},{"l":25,"e":6,"b":2},{"l":25,"e":7,"b":2},
      {"l":26,"e":0,"b":2},{"l":26,"e":1,"b":2},{"l":26,"e":2,"b":2},{"l":26,"e":3,"b":2},{"l":26,"e":4,"b":2},{"l":26,"e":5,"b":2},{"l":26,"e":6,"b":2},{"l":26,"e":7,"b":2},
      {"l":27,"e":0,"b":2},{"l":27,"e":1,"b":2},{"l":27,"e":2,"b":2},{"l":27,"e":3,"b":2},{"l":27,"e":4,"b":2},{"l":27,"e":5,"b":2},{"l":27,"e":6,"b":2},{"l":27,"e":7,"b":2},
      {"l":28,"e":0,"b":2},{"l":28,"e":1,"b":2},{"l":28,"e":2,"b":3},{"l":28,"e":3,"b":3},{"l":28,"e":4,"b":2},{"l":28,"e":5,"b":2},{"l":28,"e":6,"b":2},{"l":28,"e":7,"b":2},
      {"l":29,"e":0,"b":2},{"l":29,"e":1,"b":2},{"l":29,"e":2,"b":1},{"l":29,"e":3,"b":2},{"l":29,"e":4,"b":2},{"l":29,"e":5,"b":2},{"l":29,"e":6,"b":2},{"l":29,"e":7,"b":2},
      {"l":30,"e":0,"b":3},{"l":30,"e":1,"b":3},{"l":30,"e":2,"b":2},{"l":30,"e":3,"b":3},{"l":30,"e":4,"b":3},{"l":30,"e":5,"b":3},{"l":30,"e":6,"b":2},{"l":30,"e":7,"b":2},
      {"l":31,"e":0,"b":3},{"l":31,"e":1,"b":3},{"l":31,"e":2,"b":4},{"l":31,"e":3,"b":3},{"l":31,"e":4,"b":3},{"l":31,"e":5,"b":3},{"l":31,"e":6,"b":3},{"l":31,"e":7,"b":3}
    ],
    "levels": [{"b":1},{"b":2},{"b":3},{"b":4}]
  },
  "spacing": 62,
  "vconcat": [
    {
      "spacing": 6,
      "hconcat": [
        {
          "data": {"name": "layerwise"},
          "width": 522,
          "height": 107,
          "title": {"text": "AlphaQ (Layer-wise)", "orient": "left", "anchor": "middle", "font": "DejaVu Sans", "fontSize": 13, "fontWeight": "bold", "color": "black", "offset": 30},
          "mark": {"type": "rect", "strokeWidth": 1},
          "encoding": {
            "x": {"field": "k", "type": "ordinal", "scale": {"paddingInner": 0, "paddingOuter": 0},
                  "axis": {"values": [1, 16, 31, 46, 61, 76, 91], "labelExpr": "(datum.value - 1) / 3", "title": null}},
            "y": {"field": "e", "type": "ordinal", "sort": "descending", "scale": {"paddingInner": 0, "paddingOuter": 0},
                  "axis": {"values": [0, 2, 4, 6], "title": "expert_id", "titlePadding": 3}},
            "color": {"field": "b", "type": "ordinal", "scale": {"domain": [1, 2, 3, 4], "range": ["#440154", "#31688e", "#35b779", "#fde725"]}, "legend": null},
            "stroke": {"field": "b", "type": "ordinal", "scale": {"domain": [1, 2, 3, 4], "range": ["#440154", "#31688e", "#35b779", "#fde725"]}, "legend": null}
          }
        },
        {
          "data": {"name": "levels"},
          "width": 11,
          "height": 107,
          "mark": {"type": "rect", "strokeWidth": 1},
          "encoding": {
            "y": {"field": "b", "type": "ordinal", "sort": "descending", "scale": {"paddingInner": 0, "paddingOuter": 0},
                  "axis": {"orient": "right", "title": "Bits", "titleAngle": 270, "titleBaseline": "top", "titlePadding": 3, "domain": false}},
            "color": {"field": "b", "type": "ordinal", "scale": {"domain": [1, 2, 3, 4], "range": ["#440154", "#31688e", "#35b779", "#fde725"]}, "legend": null},
            "stroke": {"field": "b", "type": "ordinal", "scale": {"domain": [1, 2, 3, 4], "range": ["#440154", "#31688e", "#35b779", "#fde725"]}, "legend": null}
          }
        }
      ]
    },
    {
      "spacing": 6,
      "hconcat": [
        {
          "data": {"name": "expertwise"},
          "width": 522,
          "height": 107,
          "title": {"text": "AlphaQ (Expert-wise)", "orient": "left", "anchor": "middle", "font": "DejaVu Sans", "fontSize": 13, "fontWeight": "bold", "color": "black", "offset": 30},
          "mark": {"type": "rect", "strokeWidth": 1},
          "encoding": {
            "x": {"field": "l", "type": "ordinal", "scale": {"paddingInner": 0, "paddingOuter": 0},
                  "axis": {"values": [0, 5, 10, 15, 20, 25, 30], "title": "layer_id", "titlePadding": 2}},
            "y": {"field": "e", "type": "ordinal", "sort": "descending", "scale": {"paddingInner": 0, "paddingOuter": 0},
                  "axis": {"values": [0, 2, 4, 6], "title": "expert_id", "titlePadding": 3}},
            "color": {"field": "b", "type": "ordinal", "scale": {"domain": [1, 2, 3, 4], "range": ["#440154", "#31688e", "#35b779", "#fde725"]}, "legend": null},
            "stroke": {"field": "b", "type": "ordinal", "scale": {"domain": [1, 2, 3, 4], "range": ["#440154", "#31688e", "#35b779", "#fde725"]}, "legend": null}
          }
        },
        {
          "data": {"name": "levels"},
          "width": 11,
          "height": 107,
          "mark": {"type": "rect", "strokeWidth": 1},
          "encoding": {
            "y": {"field": "b", "type": "ordinal", "sort": "descending", "scale": {"paddingInner": 0, "paddingOuter": 0},
                  "axis": {"orient": "right", "title": "Bits", "titleAngle": 270, "titleBaseline": "top", "titlePadding": 3, "domain": false}},
            "color": {"field": "b", "type": "ordinal", "scale": {"domain": [1, 2, 3, 4], "range": ["#440154", "#31688e", "#35b779", "#fde725"]}, "legend": null},
            "stroke": {"field": "b", "type": "ordinal", "scale": {"domain": [1, 2, 3, 4], "range": ["#440154", "#31688e", "#35b779", "#fde725"]}, "legend": null}
          }
        }
      ]
    }
  ]
}
